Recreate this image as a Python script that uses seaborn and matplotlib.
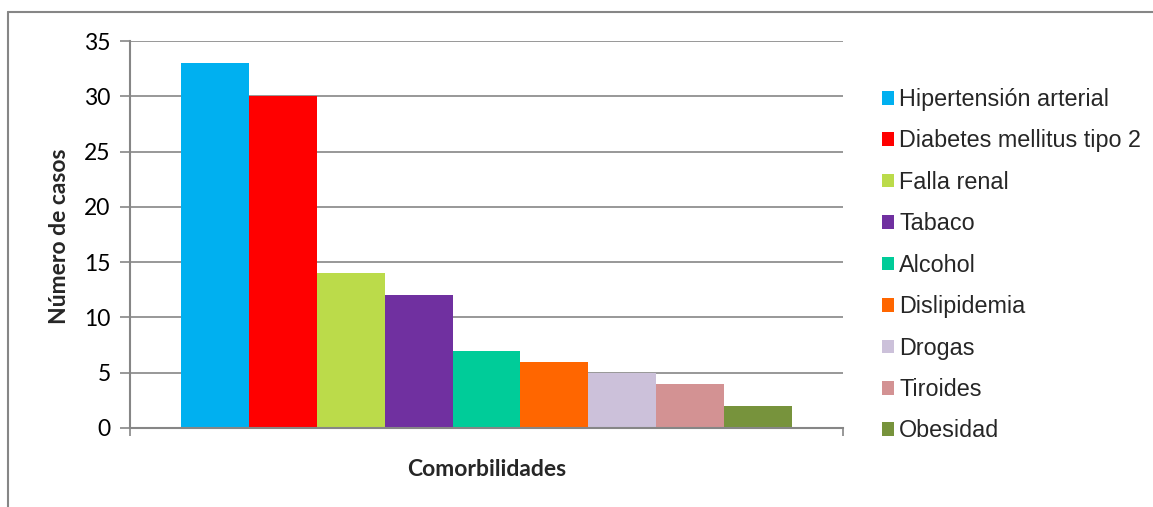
import matplotlib
matplotlib.use("Agg")
import matplotlib.pyplot as plt
import seaborn as sns
import pandas as pd
from matplotlib.lines import Line2D

categorias = ["Hipertensión arterial", "Diabetes mellitus tipo 2", "Falla renal", "Tabaco",
              "Alcohol", "Dislipidemia", "Drogas", "Tiroides", "Obesidad"]
casos = [33, 30, 14, 12, 7, 6, 5, 4, 2]
colores = ["#00B0F0", "#FF0000", "#BBDB4A", "#7030A0", "#00CC99",
           "#FF6600", "#CCC1DA", "#D39293", "#77933C"]
yticks = [0, 5, 10, 15, 20, 25, 30, 35]

df = pd.DataFrame({"grupo": ["Comorbilidades"] * len(categorias),
                   "Comorbilidad": categorias, "casos": casos})

sns.set_theme(style="white")
W, H = 1153, 507
fig = plt.figure(figsize=(W / 100, H / 100), dpi=100)
ax = fig.add_axes([130 / W, 1 - 428 / H, (843 - 130) / W, (428 - 41) / H])

sns.barplot(data=df, x="grupo", y="casos", hue="Comorbilidad", hue_order=categorias,
            palette=colores, width=0.858, dodge=True, linewidth=0, ax=ax,
            saturation=1, legend=True)

gray = "#868686"
ax.set_ylim(0, 35)
ax.set_xlim(-0.5, 0.5)
ax.set_yticks(yticks)
ax.yaxis.grid(True, color=gray, linewidth=1.2)
ax.set_axisbelow(True)
for s in ["top", "right"]:
    ax.spines[s].set_visible(False)
for s in ["left", "bottom"]:
    ax.spines[s].set_color(gray)
    ax.spines[s].set_linewidth(1.5)

ax.set_xticks([-0.5, 0.5])
ax.set_xticklabels(["", ""])
ax.tick_params(axis="x", direction="out", length=6, color=gray, width=1.2, bottom=True)
ax.tick_params(axis="y", direction="out", length=7, color=gray, width=1.2, left=True,
               labelsize=16.5, pad=7)
for t in ax.get_yticklabels():
    t.set_fontfamily("Lato")
    t.set_color("black")

ax.set_xlabel("")
ax.set_ylabel("")
fig.text(60 / W, 1 - 236 / H, "Número de casos", rotation=90, ha="center", va="center",
         fontsize=16.5, fontweight="bold", family="Lato")
fig.text(487 / W, 1 - 470 / H, "Comorbilidades", ha="center", va="center",
         fontsize=16.5, fontweight="bold", family="Lato")

handles, labels = ax.get_legend_handles_labels()
ax.legend(handles, labels, loc="upper left", bbox_to_anchor=(882 / W, 1 - 88 / H),
          bbox_transform=fig.transFigure, frameon=False,
          prop={"family": ["Liberation Sans"], "size": 16.8},
          handlelength=0.52, handleheight=0.52, handletextpad=0.22,
          labelspacing=0.79, borderaxespad=0, borderpad=0)

# outer chart frame (top and left edges)
fig.add_artist(Line2D([8 / W, 1], [1 - 12 / H, 1 - 12 / H], transform=fig.transFigure,
                      color=gray, linewidth=1.5))
fig.add_artist(Line2D([8 / W, 8 / W], [0, 1 - 12 / H], transform=fig.transFigure,
                      color=gray, linewidth=1.5))

fig.savefig("out.png", dpi=100)
